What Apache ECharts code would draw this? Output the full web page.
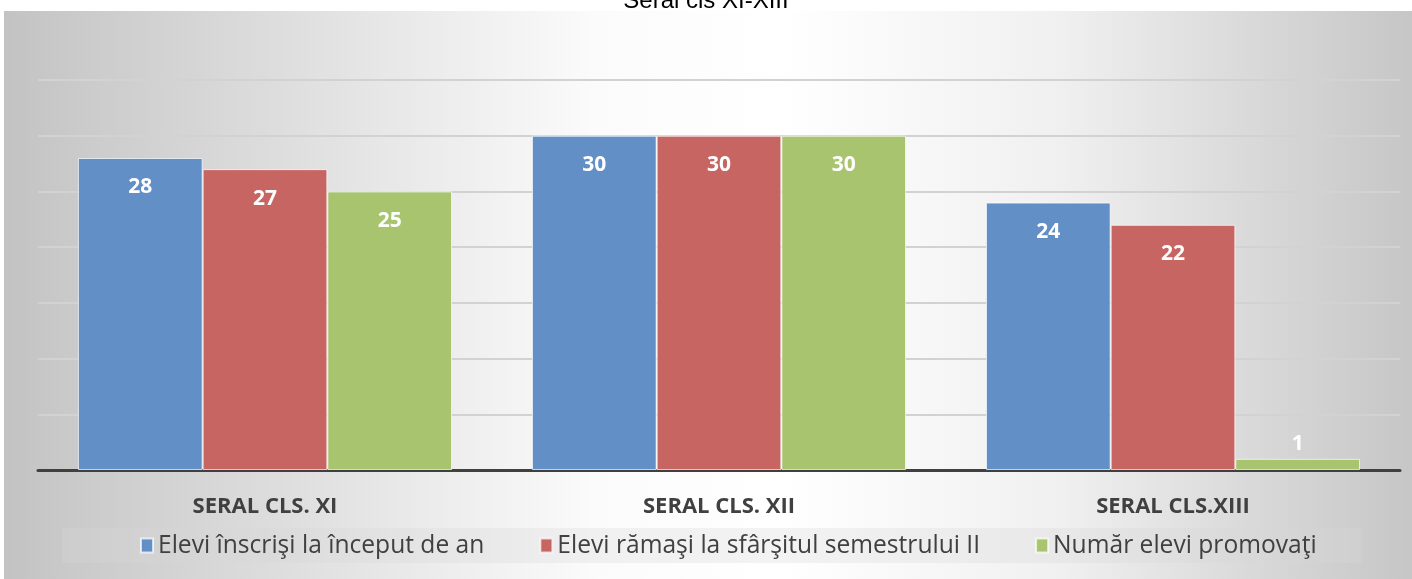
<!DOCTYPE html>
<html>
<head>
<meta charset="utf-8">
<script src="https://cdn.jsdelivr.net/npm/echarts@6/dist/echarts.min.js"></script>
<style>
  html, body { margin: 0; padding: 0; background: #fff; }
  #chart { width: 1412px; height: 579px; }
</style>
</head>
<body>
<div id="chart"></div>
<script>
const categories = ['SERAL CLS. XI', 'SERAL CLS. XII', 'SERAL CLS.XIII'];
const seriesNames = [
    'Elevi înscrişi la început de an',
    'Elevi rămaşi la sfârşitul semestrului II',
    'Număr elevi promovaţi'
];
const inscrisi = [28, 30, 24];
const ramasi = [27, 30, 22];
const promovati = [25, 30, 1];
const colors = ['#628fc6', '#c76563', '#a8c46f'];

const chart = echarts.init(document.getElementById('chart'));

const valueSets = [inscrisi, ramasi, promovati];
const series = valueSets.map((vals, i) => ({
    name: seriesNames[i],
    type: 'bar',
    // bars too short for an inside label get it on top
    data: vals.map(v => v < 3 ? { value: v, label: { position: 'top', distance: 4 } } : v),
    barGap: '0%',
    barCategoryGap: '17.6%',
    itemStyle: { color: colors[i], borderColor: 'rgba(255,255,255,0.7)', borderWidth: 1 },
    label: {
        show: true,
        position: 'insideTop',
        distance: 19,
        color: '#fff',
        fontWeight: 'bold',
        fontSize: 21,
        fontFamily: 'Open Sans'
    }
}));

chart.setOption({
    animation: false,
    graphic: [{
        type: 'rect',
        z: -10,
        silent: true,
        shape: { x: 4, y: 11, width: 1408, height: 568 },
        style: {
            fill: {
                type: 'linear', x: 0, y: 0, x2: 1, y2: 0,
                colorStops: [
                    { offset: 0, color: '#c3c3c3' },
                    { offset: 0.2, color: '#dedede' },
                    { offset: 0.42, color: '#fbfbfb' },
                    { offset: 0.55, color: '#ffffff' },
                    { offset: 0.75, color: '#f0f0f0' },
                    { offset: 1, color: '#c6c6c6' }
                ]
            }
        }
    }],
    title: {
        text: 'Seral cls XI-XIII',
        left: 'center',
        top: -16,
        textStyle: { fontFamily: 'Liberation Sans', fontWeight: 'normal', fontSize: 24, color: '#000' }
    },
    legend: {
        data: seriesNames,
        icon: 'rect',
        top: 528,
        left: 62,
        itemWidth: 12,
        itemHeight: 14,
        itemGap: 55,
        padding: [5, 45, 5, 78],
        backgroundColor: 'rgba(215,215,215,0.3)',
        textStyle: { fontSize: 24.6, color: '#404040', fontFamily: 'Open Sans' }
    },
    grid: { left: 38, right: 12, top: 80, bottom: 109 },
    xAxis: {
        type: 'category',
        data: categories,
        axisLine: { lineStyle: { color: '#404040', width: 3 } },
        axisTick: { show: false },
        axisLabel: {
            margin: 26,
            fontSize: 22,
            fontWeight: 'bold',
            color: '#404040',
            fontFamily: 'Open Sans'
        }
    },
    yAxis: {
        type: 'value',
        min: 0,
        max: 35,
        interval: 5,
        axisLabel: { show: false },
        axisLine: { show: false },
        axisTick: { show: false },
        splitLine: { lineStyle: { color: '#d2d2d2', width: 2 } }
    },
    series: series
});

window.addEventListener('resize', () => chart.resize());
</script>
</body>
</html>
